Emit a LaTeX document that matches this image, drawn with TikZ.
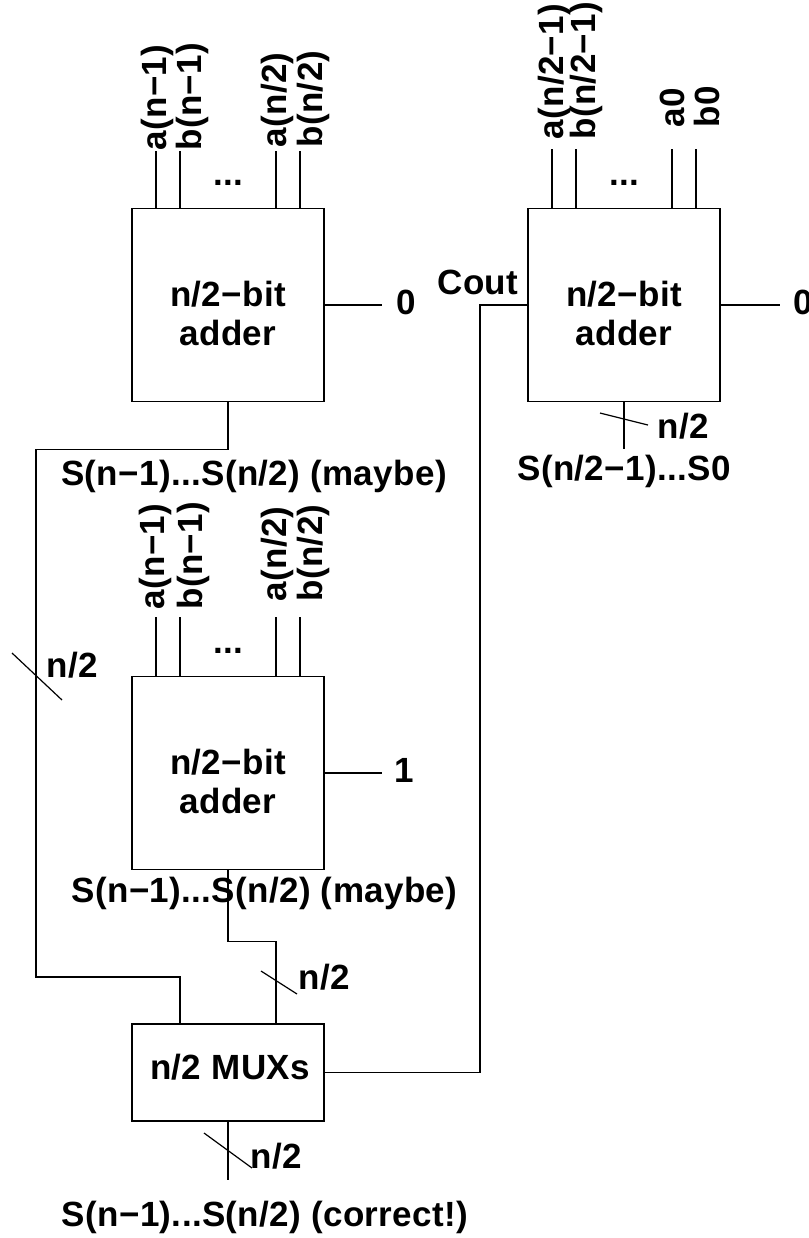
\documentclass[tikz,border=0pt]{standalone}
\usepackage{fontspec}
\setmainfont{Liberation Sans}[LetterSpace=1]
\usetikzlibrary{positioning}
\begin{document}
\begin{tikzpicture}[x=0.5pt, y=-0.5pt, line width=0.6pt, line cap=butt, line join=miter,
	font=\fontsize{17.5}{19.5}\selectfont\bfseries,
	adder/.style={draw, minimum width=96pt, minimum height=96.5pt, inner sep=0pt, outer sep=0pt},
	muxbox/.style={draw, minimum width=96pt, minimum height=48.5pt, inner sep=0pt, outer sep=0pt},
	pin/.style={rotate=90, anchor=west, inner sep=0pt, outer sep=0pt},
	lbl/.style={inner sep=0pt, outer sep=0pt}]
	\useasboundingbox (0,0) rectangle (809,1238);
	% ==================== KHỐI CỘNG ====================
	\node[adder] (AddHi0) at (228,305) {};
	\node[adder] (AddHi1) at (228,773) {};
	\node[adder] (AddLo) at (624,305) {};
	\node[muxbox] (Mux) at (228,1072.5) {};
	\node[lbl, align=center] (AddHi0Txt) at (228,313) {n/2−bit\\adder};
	\node[lbl, align=center] (AddHi1Txt) at (228,781) {n/2−bit\\adder};
	\node[lbl, align=center] (AddLoTxt) at (624,313) {n/2−bit\\adder};
	\node[lbl] (MuxTxt) at (230,1067) {n/2 MUXs};
	% ==================== ĐẦU VÀO ====================
	\foreach \dx/\ox/\gap/\txt [count=\i] in {24/1/0/{a(n−1)}, 48/12/0/{b(n−1)}, 144/1/3/{a(n/2)}, 168/13/3/{b(n/2)}}
	\draw (AddHi0.north west) ++(\dx,0) coordinate (hi0in\i) -- ++(0,-58) coordinate (hi0top\i)
	++(\ox,-\gap) node[pin] (hi0pin\i) {\txt};
	\foreach \dx/\ox/\gap/\txt [count=\i] in {24/-1/7/{a(n−1)}, 48/13/7/{b(n−1)}, 144/1/15/{a(n/2)}, 168/13/15/{b(n/2)}}
	\draw (AddHi1.north west) ++(\dx,0) coordinate (hi1in\i) -- ++(0,-60) coordinate (hi1top\i)
	++(\ox,-\gap) node[pin] (hi1pin\i) {\txt};
	\foreach \dx/\ox/\gap/\txt [count=\i] in {24/2/9/{a(n/2−1)}, 48/10/9/{b(n/2−1)}, 144/0/21/{a0}, 168/11/21/{b0}}
	\draw (AddLo.north west) ++(\dx,0) coordinate (loin\i) -- ++(0,-60) coordinate (lotop\i)
	++(\ox,-\gap) node[pin] (lopin\i) {\txt};
	\foreach \p/\y in {AddHi0/185, AddHi1/653, AddLo/185}
	\node[lbl, anchor=base] (\p dots) at (\p.center |- 0,\y) {...};
	% ==================== CARRY VÀO ====================
	\draw (AddHi0.east) -- ++(58,0) coordinate (hi0cin);
	\draw (AddHi1.east) -- ++(58,0) coordinate (hi1cin);
	\draw (AddLo.east) -- ++(60,0) coordinate (locin);
	\node[lbl] (hi0cinTxt) at (406,302) {0};
	\node[lbl] (hi1cinTxt) at (404,770) {1};
	\node[lbl] (locinTxt) at (803,302) {0};
	% ==================== DÂY NỐI ====================
	\draw (AddHi0.south) -- ++(0,48) coordinate (hi0drop) -| (36,977) -| ([xshift=24pt]Mux.north west);
	\draw (AddHi1.south) -- ++(0,72) coordinate (hi1drop) -| ([xshift=72pt]Mux.north west);
	\draw (Mux.south) -- ++(0,59) coordinate (muxout);
	\draw (AddLo.south) -- ++(0,47) coordinate (loout);
	\coordinate (coutbend) at (480,305);
	\draw (Mux.east) -| (coutbend) -- (AddLo.west);
	\node[lbl] (coutTxt) at (478,282) {Cout};
	% ==================== VẠCH BUS ====================
	\draw (12,653) -- (62,700);
	\draw (261,971) -- (297,994);
	\draw (204,1133) -- (252,1168);
	\draw (600,413) -- (648,425);
	\node[lbl] (busA) at (72,665) {n/2};
	\node[lbl] (busB) at (324,977) {n/2};
	\node[lbl] (busC) at (276,1156) {n/2};
	\node[lbl] (busD) at (683,426) {n/2};
	% ==================== NHÃN TỔNG ====================
	\node[lbl] (sumHi0) at (254,476) {S(n−1)...S(n/2) (maybe)};
	\node[lbl] (sumHi1) at (264.5,893) {S(n−1)...S(n/2) (maybe)};
	\node[lbl] (sumMux) at (265,1217) {S(n−1)...S(n/2) (correct!)};
	\node[lbl] (sumLo) at (624,471) {S(n/2−1)...S0};
\end{tikzpicture}
\end{document}
